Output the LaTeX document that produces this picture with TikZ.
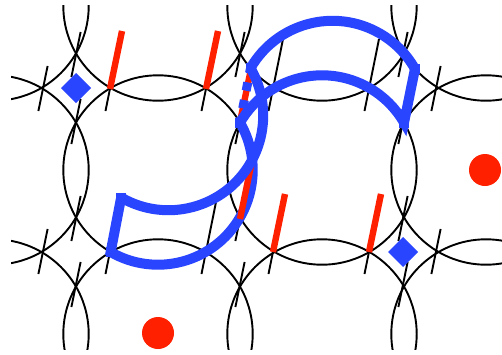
\documentclass[tikz,border=0pt]{standalone}
\usetikzlibrary{calc}
\definecolor{bl}{HTML}{2A45FF}
\definecolor{rd}{HTML}{FF2000}
\tikzset{x=1bp,y=1bp,
 net/.style={black,line width=1.9bp},
 redbar/.style={rd,line width=6.4bp},
 bluebar/.style={bl,line width=10bp,line join=miter},
 bluedash/.style={bl,line width=9bp,dash pattern=on 8.5bp off 9.5bp,dash phase=3.5bp},
 knob/.style={bl,minimum size=10bp,inner sep=0pt,fill=bl},
}
\begin{document}
\begin{tikzpicture}
\useasboundingbox (0,0) rectangle (502,354);
\begin{scope}
\clip (11,5) rectangle (502,348);
\foreach \cx in {-6,158,322,486}
 \foreach \cy in {20,184,348}
  \draw[net] (\cx,\cy) circle (94.7);
\end{scope}
% short ticks
\foreach \vx/\vy in {43/265,76/299,76/232,403/299,403/232,436/265,240/299,240/232,
                     43/102,76/135,76/69,403/135,403/69,436/102,240/135,240/69}
  \draw[net] (\vx+4.6,\vy+23) -- (\vx-4.6,\vy-22);
% long ticks
\foreach \vx/\vy in {110/265,206/265,273/265,369/265,110/102,206/102,273/102,369/102}
  \draw[net] (\vx+10,\vy+50) -- (\vx-4.5,\vy-22);
% blue band coordinates
\coordinate (a) at ($(158,184)+(240:94.7)$);
\coordinate (b) at ($(168.5,238.5)+(240:94.7)$);
\coordinate (c) at ($(158,184)+(30:94.7)$);
\coordinate (d) at ($(168.5,238.5)+(30:94.7)$);
\coordinate (e) at ($(322,184)+(30:94.7)$);
\coordinate (f) at ($(333,238)+(30:94.7)$);
% lower circle arc, under the red bars
\draw[bluebar] (b) -- (a) arc[start angle=240,end angle=390,radius=94.7];
% red bars
\foreach \vx/\vy in {110/265,206/265,273/102,369/102,240/232,240/135}
  \draw[redbar] (\vx,\vy) -- (\vx+12,\vy+58);
% markers
\fill[rd] (158,21) circle (16);
\fill[rd] (485,184) circle (16);
\foreach \vx/\vy in {76/266,403/102}
  \fill[bl] (\vx-15,\vy) -- (\vx,\vy+15) -- (\vx+15,\vy) -- (\vx,\vy-15) -- cycle;
% remaining blue band
\draw[bluedash] (c) -- (d);
\draw[bluebar] (b) arc[start angle=240,end angle=390,radius=94.7];
\draw[bluebar] (c) arc[start angle=150,end angle=30,radius=94.7] -- (f);
\draw[bluebar] (d) arc[start angle=150,end angle=30,radius=94.7];
\foreach \k in {a,b,c,d,e,f}
  \node[knob] (k\k) at (\k) {};
\end{tikzpicture}
\end{document}
